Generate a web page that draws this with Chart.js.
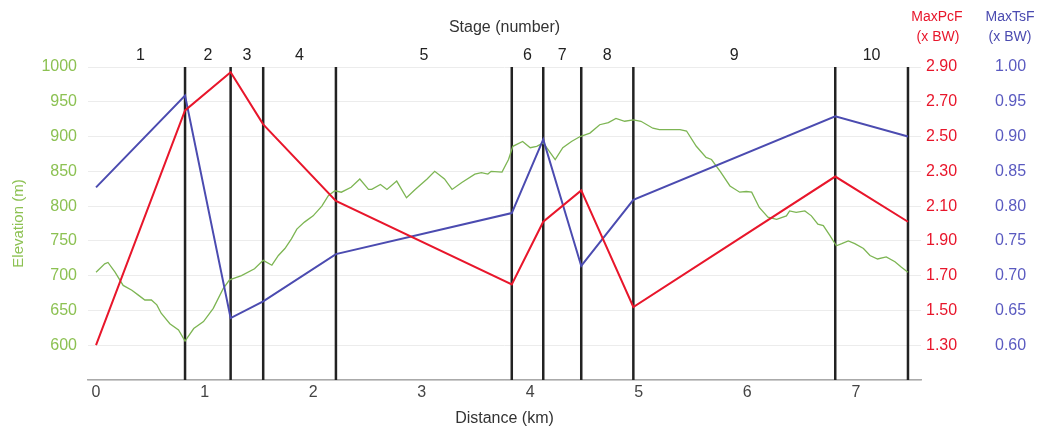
<!DOCTYPE html>
<html>
<head>
<meta charset="utf-8">
<script src="https://cdn.jsdelivr.net/npm/chart.js@4.4.1/dist/chart.umd.min.js"></script>
<style>
    body { margin: 0; background: #fff; }
    #wrap { width: 1045px; height: 429px; }
</style>
</head>
<body>
<div id="wrap"><canvas id="profile-chart"></canvas></div>
<script>
// elevation profile (km, m)
var distanceKm = [
    0.00, 0.08, 0.11, 0.175, 0.25, 0.33, 0.39, 0.45, 0.51, 0.56, 0.60, 0.68, 0.76, 0.82,
    0.90, 0.99, 1.08, 1.17, 1.23, 1.34, 1.46, 1.54, 1.62, 1.68, 1.74, 1.80, 1.85, 1.92,
    2.00, 2.08, 2.14, 2.20, 2.26, 2.35, 2.43, 2.51, 2.54, 2.62, 2.68, 2.77, 2.86, 2.94,
    3.05, 3.12, 3.21, 3.28, 3.37, 3.49, 3.55, 3.61, 3.64, 3.74, 3.80, 3.84, 3.93, 4.00,
    4.06, 4.12, 4.23, 4.30, 4.38, 4.46, 4.55, 4.64, 4.72, 4.79, 4.87, 4.95, 5.02, 5.13,
    5.19, 5.38, 5.44, 5.53, 5.62, 5.67, 5.75, 5.84, 5.93, 5.99, 6.04, 6.11, 6.19, 6.27,
    6.36, 6.39, 6.45, 6.53, 6.59, 6.65, 6.70, 6.76, 6.82, 6.87, 6.93, 6.99, 7.07, 7.13,
    7.20, 7.28, 7.36, 7.42, 7.48
];
var elevationM = [
    705, 717, 719, 705, 686, 679, 672, 665, 665, 658, 646, 631, 622, 606,
    624, 634, 653, 681, 694, 700, 710, 722, 715, 729, 739, 753, 767, 777,
    786, 800, 815, 822, 820, 827, 839, 824, 824, 831, 824, 836, 812, 824,
    839, 850, 839, 824, 834, 846, 848, 846, 850, 849, 867, 886, 893, 884,
    886, 891, 867, 884, 893, 900, 905, 917, 920, 926, 922, 924, 922, 912,
    910, 910, 908, 886, 870, 867, 850, 829, 820, 821, 820, 798, 784, 781,
    786, 793, 791, 793, 786, 774, 772, 758, 743, 746, 750, 746, 739, 729,
    724, 727, 720, 712, 705
];

// stage boundaries (km) and peak forces at each boundary
var stageBounds = [0, 0.82, 1.24, 1.54, 2.21, 3.83, 4.12, 4.47, 4.95, 6.81, 7.48];
var stageNames = ["1", "2", "3", "4", "5", "6", "7", "8", "9", "10"];
var maxPcF = [1.30, 2.65, 2.87, 2.57, 2.13, 1.65, 2.01, 2.19, 1.52, 2.27, 2.01];
var maxTsF = [0.827, 0.959, 0.639, 0.663, 0.731, 0.79, 0.896, 0.714, 0.809, 0.929, 0.90];

var distTicks = [0, 1, 2, 3, 4, 5, 6, 7];

var green = "#8cc152";
var greenLine = "#7db553";
var red = "#e8162b";
var blue = "#4b4bb0";

Chart.defaults.font.family = '"Liberation Sans", Arial, sans-serif';
Chart.defaults.font.size = 16;

var elevPoints = distanceKm.map(function (d, i) { return { x: d, y: elevationM[i] }; });
var pcfPoints = stageBounds.map(function (d, i) { return { x: d, y: maxPcF[i] }; });
var tsfPoints = stageBounds.map(function (d, i) { return { x: d, y: maxTsF[i] }; });

var stageMids = [];
for (var i = 0; i < stageBounds.length - 1; i++) {
    stageMids.push((stageBounds[i] + stageBounds[i + 1]) / 2);
}

// black vertical lines at stage boundaries
var stageLines = {
    id: "stageLines",
    beforeDatasetsDraw: function (chart) {
        var ctx = chart.ctx;
        var area = chart.chartArea;
        var xs = chart.scales.x;
        ctx.save();
        ctx.strokeStyle = "#222";
        ctx.lineWidth = 2.5;
        for (var i = 1; i < stageBounds.length; i++) {
            var px = xs.getPixelForValue(stageBounds[i]);
            ctx.beginPath();
            ctx.moveTo(px, area.top);
            ctx.lineTo(px, area.bottom);
            ctx.stroke();
        }
        ctx.restore();
    },
};

// two-line titles above the right axes
var rightTitles = {
    id: "rightTitles",
    afterDraw: function (chart) {
        var ctx = chart.ctx;
        ctx.save();
        ctx.font = '14px "Liberation Sans", Arial, sans-serif';
        ctx.textAlign = "center";
        ctx.textBaseline = "middle";
        var s1 = chart.scales.y1;
        var s2 = chart.scales.y2;
        ctx.fillStyle = red;
        ctx.fillText("MaxPcF", s1.left + 16, 17);
        ctx.fillText("(x BW)", s1.left + 17, 37);
        ctx.fillStyle = blue;
        ctx.fillText("MaxTsF", s2.left + 21, 17);
        ctx.fillText("(x BW)", s2.left + 21, 37);
        ctx.restore();
    },
};

var ctx = document.getElementById("profile-chart").getContext("2d");

var config = {
    type: "line",
    data: {
        datasets: [
            {
                label: "MaxPcF",
                data: pcfPoints,
                yAxisID: "y1",
                borderColor: red,
                borderWidth: 2,
                pointRadius: 0,
            },
            {
                label: "MaxTsF",
                data: tsfPoints,
                yAxisID: "y2",
                borderColor: blue,
                borderWidth: 2,
                pointRadius: 0,
            },
            {
                label: "Elevation",
                data: elevPoints,
                yAxisID: "y",
                borderColor: greenLine,
                borderWidth: 1.3,
                pointRadius: 0,
            },
        ],
    },
    options: {
        responsive: true,
        maintainAspectRatio: false,
        animation: false,
        layout: { padding: 0 },
        plugins: {
            legend: { display: false },
            tooltip: { enabled: false },
        },
        scales: {
            x: {
                type: "linear",
                position: "bottom",
                min: -0.074,
                max: 7.6,
                afterBuildTicks: function (scale) {
                    scale.ticks = distTicks.map(function (v) { return { value: v }; });
                },
                afterFit: function (scale) { scale.height = 49; },
                grid: { display: false, drawTicks: false },
                border: { display: true, color: "#aaa", width: 1.5 },
                ticks: { color: "#444", padding: 3, maxRotation: 0 },
                title: {
                    display: true,
                    text: "Distance (km)",
                    color: "#333",
                    padding: { top: 0, bottom: 1 },
                },
            },
            xTop: {
                type: "linear",
                position: "top",
                min: -0.074,
                max: 7.6,
                afterBuildTicks: function (scale) {
                    scale.ticks = stageMids.map(function (v) { return { value: v }; });
                },
                afterFit: function (scale) { scale.height = 67; },
                grid: { display: false, drawTicks: false },
                border: { display: false },
                ticks: {
                    color: "#222",
                    padding: 2,
                    maxRotation: 0,
                    autoSkip: false,
                    callback: function (value, index) { return stageNames[index]; },
                },
                title: {
                    display: true,
                    text: "Stage (number)",
                    color: "#333",
                    padding: { top: 18, bottom: 0 },
                },
            },
            y: {
                position: "left",
                min: 550,
                max: 1000,
                afterFit: function (scale) { scale.width = 88; },
                grid: { color: "#ececec", drawTicks: false },
                border: { display: false },
                ticks: {
                    stepSize: 50,
                    color: green,
                    padding: 11,
                    callback: function (v) { return v === 550 ? "" : v; },
                },
                title: {
                    display: true,
                    text: "Elevation (m)",
                    color: green,
                    font: { size: 15 },
                    padding: { top: 10, bottom: 0 },
                },
            },
            y1: {
                position: "right",
                min: 1.1,
                max: 2.9,
                afterFit: function (scale) { scale.width = 68; },
                grid: { drawOnChartArea: false, drawTicks: false },
                border: { display: false },
                ticks: {
                    stepSize: 0.2,
                    color: red,
                    padding: 5,
                    callback: function (v) { return Math.abs(v - 1.1) < 0.001 ? "" : v.toFixed(2); },
                },
            },
            y2: {
                position: "right",
                min: 0.55,
                max: 1.0,
                afterFit: function (scale) { scale.width = 56; },
                grid: { drawOnChartArea: false, drawTicks: false },
                border: { display: false },
                ticks: {
                    stepSize: 0.05,
                    color: "#5a5ac0",
                    padding: 6,
                    callback: function (v) { return Math.abs(v - 0.55) < 0.001 ? "" : v.toFixed(2); },
                },
            },
        },
    },
    plugins: [stageLines, rightTitles],
};

var profileChart = new Chart(ctx, config);
</script>
</body>
</html>
